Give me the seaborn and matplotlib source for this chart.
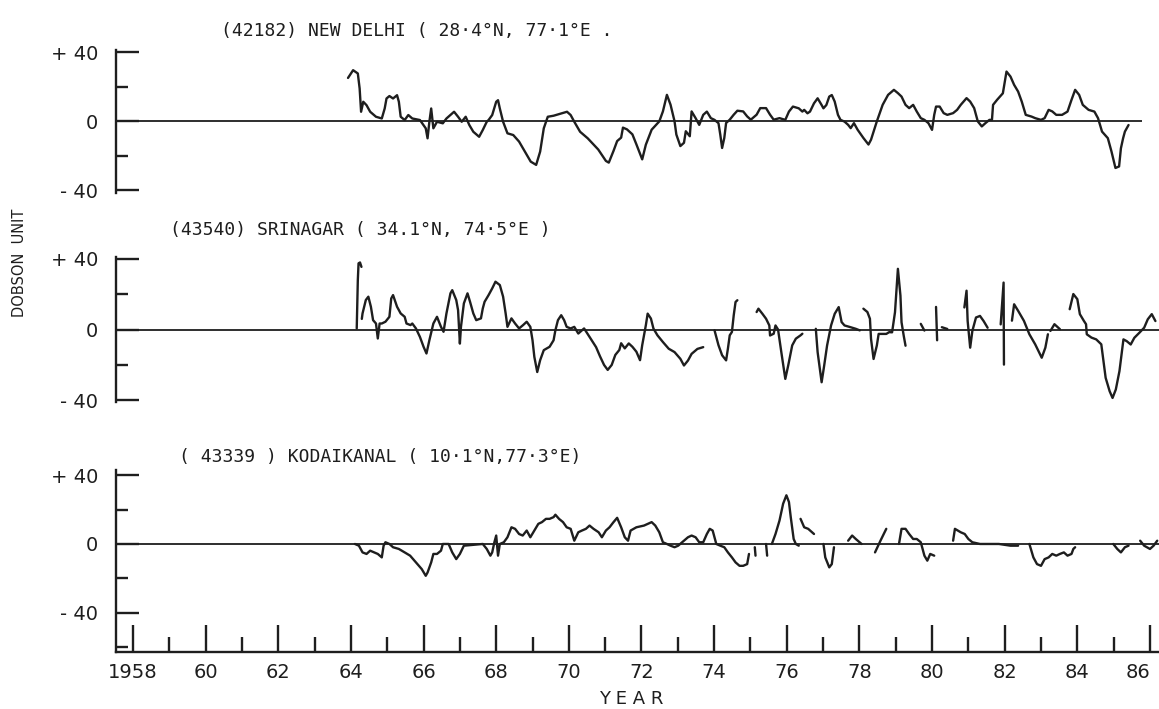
import numpy as np
import pandas as pd
import matplotlib
matplotlib.use("Agg")
import matplotlib.pyplot as plt
import seaborn as sns

sns.set_theme(style="white")
plt.rcParams["font.family"] = ["DejaVu Sans"]

INK = "#1e1e1e"
NAN = np.nan

# Monthly-smoothed total ozone deviations (Dobson units); NaN marks a break in the record.
DELHI_YEAR = [
    1963.92, 1964.06, 1964.19, 1964.24, 1964.28, 1964.34, 1964.43, 1964.53, 1964.69, 1964.85,
    1964.93, 1964.98, 1965.06, 1965.16, 1965.27, 1965.32, 1965.37, 1965.48, 1965.58, 1965.69,
    1965.90, 1966.06, 1966.11, 1966.16, 1966.21, 1966.27, 1966.37, 1966.53, 1966.63, 1966.74,
    1966.84, 1966.95, 1967.05, 1967.16, 1967.26, 1967.37, 1967.53, 1967.63, 1967.74, 1967.79,
    1967.89, 1968.00, 1968.05, 1968.10, 1968.19, 1968.31, 1968.47, 1968.63, 1968.79, 1968.95,
    1969.10, 1969.21, 1969.31, 1969.42, 1969.58, 1969.79, 1969.95, 1970.05, 1970.15, 1970.31,
    1970.52, 1970.81, 1971.02, 1971.10, 1971.23, 1971.33, 1971.44, 1971.49, 1971.60, 1971.75,
    1971.86, 1972.02, 1972.12, 1972.28, 1972.49, 1972.59, 1972.70, 1972.80, 1972.91, 1972.96,
    1973.07, 1973.17, 1973.22, 1973.33, 1973.38, 1973.49, 1973.59, 1973.70, 1973.80, 1973.91,
    1974.01, 1974.12, 1974.17, 1974.22, 1974.28, 1974.33, 1974.43, 1974.54, 1974.64, 1974.80,
    1974.91, 1975.01, 1975.17, 1975.27, 1975.43, 1975.54, 1975.64, 1975.80, 1975.96, 1976.06,
    1976.17, 1976.33, 1976.43, 1976.48, 1976.57, 1976.64, 1976.75, 1976.85, 1976.96, 1977.01,
    1977.09, 1977.17, 1977.24, 1977.32, 1977.41, 1977.48, 1977.59, 1977.69, 1977.76, 1977.85,
    1977.95, 1978.11, 1978.25, 1978.32, 1978.48, 1978.64, 1978.79, 1978.95, 1979.06, 1979.16,
    1979.27, 1979.37, 1979.48, 1979.58, 1979.69, 1979.79, 1979.90, 1980.00, 1980.06, 1980.11,
    1980.21, 1980.32, 1980.42, 1980.58, 1980.69, 1980.79, 1980.95, 1981.05, 1981.16, 1981.26,
    1981.37, 1981.47, 1981.58, 1981.65, 1981.68, 1981.79, 1981.95, 1982.05, 1982.16, 1982.26,
    1982.37, 1982.47, 1982.58, 1982.74, 1982.84, 1983.00, 1983.10, 1983.21, 1983.31, 1983.42,
    1983.58, 1983.73, 1983.84, 1983.94, 1984.05, 1984.15, 1984.31, 1984.47, 1984.57, 1984.68,
    1984.84, 1984.94, 1985.05, 1985.15, 1985.20, 1985.26, 1985.31, 1985.41,
]
DELHI_VALUE = [
    25.0, 29.5, 27.6, 18.9, 5.4, 11.2, 9.2, 5.4, 2.5, 1.5,
    7.3, 13.1, 14.5, 13.1, 15.0, 11.2, 2.5, 0.6, 3.5, 1.5,
    0.6, -4.2, -10.0, -0.4, 7.3, -4.2, -0.4, -1.3, 1.5, 3.5,
    5.4, 2.5, -0.4, 2.5, -2.3, -6.2, -9.1, -5.2, -0.4, 0.6,
    3.5, 11.2, 12.1, 7.3, -0.4, -7.1, -8.1, -11.9, -17.7, -23.5,
    -25.4, -17.7, -4.2, 2.5, 3.1, 4.4, 5.4, 3.5, -0.4, -6.2,
    -10.0, -16.5, -23.1, -24.1, -17.3, -11.6, -9.6, -3.8, -4.8, -7.7,
    -13.5, -22.2, -13.7, -5.0, -0.2, 5.6, 15.2, 9.5, -0.1, -7.8,
    -14.5, -12.6, -5.9, -8.8, 5.6, 1.7, -2.2, 3.6, 5.5, 1.7,
    0.7, -1.2, -7.9, -15.6, -9.8, -1.1, 0.8, 3.7, 6.0, 5.6,
    2.7, 0.8, 3.7, 7.5, 7.5, 3.7, 0.8, 1.7, 0.7, 5.5,
    8.4, 7.4, 5.5, 6.5, 4.5, 5.5, 10.3, 13.2, 9.3, 7.4,
    9.3, 14.2, 15.1, 11.3, 3.6, 0.7, -0.3, -2.2, -4.1, -1.2,
    -5.0, -9.8, -13.6, -10.8, -0.2, 9.4, 15.2, 18.1, 16.2, 14.2,
    9.4, 7.5, 9.4, 5.5, 1.7, 0.7, -1.2, -5.1, 3.6, 8.4,
    8.4, 4.6, 3.6, 4.6, 6.5, 9.4, 13.3, 11.3, 7.5, -0.2,
    -3.1, -1.2, 0.7, 0.7, 9.4, 12.3, 16.1, 28.7, 25.8, 21.0,
    17.1, 11.3, 3.6, 2.6, 1.7, 0.7, 1.7, 6.5, 5.6, 3.6,
    3.6, 5.5, 12.3, 18.1, 15.2, 9.4, 6.5, 5.5, 1.7, -6.1,
    -9.9, -17.6, -27.2, -26.3, -15.8, -10.0, -6.1, -2.3,
]

SRINAGAR_YEAR = [
    1964.16, 1964.19, 1964.21, 1964.25, 1964.29, NAN,
    1964.30, 1964.32, 1964.41, 1964.48, 1964.55, 1964.61, 1964.69, 1964.74, 1964.79, 1964.85,
    1964.95, 1965.06, 1965.11, 1965.16, 1965.27, 1965.37, 1965.48, 1965.53, 1965.64, 1965.69,
    1965.79, 1965.90, 1966.00, 1966.08, 1966.16, 1966.27, 1966.37, 1966.48, 1966.55, 1966.63,
    1966.74, 1966.79, 1966.90, 1966.95, 1967.00, 1967.03, 1967.11, 1967.21, 1967.28, 1967.37,
    1967.45, 1967.58, 1967.63, 1967.68, 1967.79, 1967.89, 1967.98, 1968.10, 1968.19, 1968.26,
    1968.31, 1968.42, 1968.52, 1968.63, 1968.74, 1968.84, 1968.94, 1969.00, 1969.05, 1969.13,
    1969.21, 1969.31, 1969.47, 1969.58, 1969.63, 1969.70, 1969.79, 1969.87, 1969.94, 1970.05,
    1970.15, 1970.26, 1970.42, 1970.57, 1970.75, 1970.86, 1970.97, 1971.07, 1971.18, 1971.28,
    1971.39, 1971.44, 1971.54, 1971.65, 1971.75, 1971.86, 1971.96, 1972.02, 1972.12, 1972.17,
    1972.26, 1972.33, 1972.44, 1972.59, 1972.75, 1972.91, 1973.07, 1973.17, 1973.28, 1973.38,
    1973.54, 1973.70, NAN,
    1974.01, 1974.12, 1974.22, 1974.33, 1974.38, 1974.43, 1974.49, 1974.54, 1974.59, 1974.64, NAN,
    1975.17, 1975.22, 1975.33, 1975.43, 1975.52, 1975.54, 1975.64, 1975.69, 1975.76, 1975.85,
    1975.96, 1976.04, 1976.15, 1976.25, 1976.38, 1976.43, NAN,
    1976.80, 1976.85, 1976.96, 1977.03, 1977.11, 1977.22, 1977.32, 1977.43, 1977.51, 1977.59,
    1977.74, 1977.90, 1978.01, NAN,
    1978.11, 1978.22, 1978.29, 1978.32, 1978.39, 1978.48, 1978.53, 1978.64, 1978.74, 1978.82,
    1978.90, 1978.98, 1979.06, 1979.13, 1979.16, 1979.22, 1979.27, NAN,
    1979.69, 1979.79, NAN,
    1980.11, 1980.14, NAN,
    1980.27, 1980.42, NAN,
    1980.89, 1980.95, 1980.98, 1981.05, 1981.11, 1981.21, 1981.32, 1981.42, 1981.53, NAN,
    1981.89, 1981.97, 1981.98, NAN,
    1982.20, 1982.26, 1982.37, 1982.53, 1982.68, 1982.84, 1983.02, 1983.12, 1983.19, NAN,
    1983.26, 1983.37, 1983.52, NAN,
    1983.79, 1983.89, 1984.00, 1984.07, 1984.18, 1984.24, 1984.26, 1984.39, 1984.52, 1984.66,
    1984.78, 1984.89, 1984.97, 1985.06, 1985.16, 1985.27, 1985.36, 1985.47, 1985.57, 1985.71,
    1985.84, 1985.94, 1986.05, 1986.15,
]
SRINAGAR_VALUE = [
    0.6, 28.0, 37.5, 38.0, 35.5, NAN,
    6.0, 9.1, 16.7, 18.6, 12.9, 5.3, 3.4, -5.1, 3.4, 3.4,
    4.4, 7.2, 17.6, 19.5, 12.9, 9.1, 7.2, 3.4, 2.5, 3.4,
    0.6, -4.2, -9.8, -13.6, -6.1, 3.4, 7.2, 1.5, -1.3, 9.1,
    20.5, 22.3, 16.7, 11.0, -8.0, 1.5, 14.8, 20.5, 15.7, 9.1,
    5.3, 6.3, 11.9, 15.7, 19.5, 23.3, 27.1, 25.2, 18.6, 9.1,
    1.5, 6.3, 3.4, 0.6, 2.5, 4.4, 1.5, -6.1, -15.5, -24.1,
    -17.4, -11.7, -9.8, -6.1, -0.4, 5.3, 8.1, 5.3, 1.5, 0.6,
    1.5, -2.3, 0.6, -4.2, -10.0, -15.3, -20.1, -22.9, -20.1, -14.4,
    -11.6, -7.8, -10.7, -7.9, -9.8, -12.6, -17.4, -8.9, 2.4, 9.0,
    6.2, 0.5, -3.3, -7.1, -10.9, -12.8, -16.6, -20.4, -17.6, -13.8,
    -11.0, -10.0, NAN,
    -0.4, -8.9, -14.6, -17.5, -10.8, -3.3, -1.4, 8.1, 15.6, 16.6, NAN,
    9.9, 11.8, 8.9, 6.1, 2.3, -3.4, -2.4, 2.3, 0.0, -12.8,
    -28.0, -20.4, -9.0, -5.2, -3.3, -2.4, NAN,
    0.4, -12.9, -29.9, -20.5, -9.1, 2.3, 8.9, 12.7, 4.2, 2.3,
    1.4, 0.4, -0.5, NAN,
    11.8, 9.9, 6.1, -5.3, -16.7, -9.1, -2.5, -2.5, -2.5, -1.5,
    -1.6, 9.8, 34.4, 19.2, 4.1, -3.5, -9.2, NAN,
    3.2, -0.6, NAN,
    12.8, -6.1, NAN,
    1.3, 0.3, NAN,
    12.5, 22.0, 4.9, -10.3, -0.8, 6.8, 7.7, 4.8, 1.0, NAN,
    2.9, 26.6, -19.9, NAN,
    5.0, 14.3, 10.6, 4.9, -2.7, -8.4, -16.0, -10.3, -2.7, NAN,
    -0.8, 3.0, 0.2, NAN,
    11.5, 20.1, 17.2, 8.7, 4.9, 3.0, -2.7, -4.6, -5.6, -8.4,
    -27.4, -35.0, -38.8, -34.0, -23.6, -5.6, -6.6, -8.5, -4.7, -1.8,
    1.0, 5.8, 8.7, 4.8,
]

KODAIKANAL_YEAR = [
    1964.11, 1964.22, 1964.32, 1964.43, 1964.53, 1964.64, 1964.74, 1964.85, 1964.90, 1964.95,
    1965.06, 1965.16, 1965.32, 1965.48, 1965.63, 1965.79, 1965.95, 1966.06, 1966.11, 1966.21,
    1966.27, 1966.37, 1966.48, 1966.53, 1966.69, 1966.79, 1966.90, 1967.00, 1967.11, 1967.63,
    1967.74, 1967.84, 1967.89, 1967.95, 1968.00, 1968.05, 1968.10, 1968.21, 1968.31, 1968.42,
    1968.52, 1968.63, 1968.73, 1968.84, 1968.94, 1969.05, 1969.16, 1969.26, 1969.37, 1969.47,
    1969.58, 1969.63, 1969.73, 1969.84, 1969.94, 1970.05, 1970.15, 1970.26, 1970.36, 1970.47,
    1970.57, 1970.68, 1970.82, 1970.91, 1971.02, 1971.12, 1971.23, 1971.33, 1971.44, 1971.54,
    1971.63, 1971.70, 1971.86, 1972.07, 1972.28, 1972.38, 1972.49, 1972.59, 1972.70, 1972.80,
    1972.91, 1973.01, 1973.12, 1973.28, 1973.38, 1973.49, 1973.59, 1973.70, 1973.80, 1973.88,
    1973.96, 1974.01, 1974.06, 1974.17, 1974.28, 1974.38, 1974.49, 1974.59, 1974.70, 1974.80,
    1974.91, 1974.96, NAN,
    1975.12, 1975.14, NAN,
    1975.43, 1975.46, NAN,
    1975.59, 1975.69, 1975.80, 1975.90, 1975.99, 1976.06, 1976.11, 1976.19, 1976.25, 1976.33, NAN,
    1976.38, 1976.48, 1976.59, 1976.75, NAN,
    1977.01, 1977.06, 1977.17, 1977.24, 1977.30, NAN,
    1977.69, 1977.80, 1977.90, 1978.06, NAN,
    1978.43, 1978.58, 1978.74, NAN,
    1979.09, 1979.16, 1979.27, 1979.37, 1979.48, 1979.58, 1979.69, 1979.79, 1979.87, 1979.95,
    1980.06, NAN,
    1980.58, 1980.63, 1980.79, 1980.90, 1981.00, 1981.11, 1981.32, 1981.84, 1982.16, 1982.37, NAN,
    1982.68, 1982.79, 1982.89, 1983.00, 1983.10, 1983.21, 1983.31, 1983.42, 1983.52, 1983.63,
    1983.73, 1983.84, 1983.89, 1983.94, NAN,
    1984.99, 1985.10, 1985.20, 1985.31, 1985.41, NAN,
    1985.73, 1985.84, 1986.00, 1986.10, 1986.20,
]
KODAIKANAL_VALUE = [
    0.0, -1.0, -4.9, -5.8, -3.9, -4.9, -5.8, -7.8, -1.0, 1.0,
    0.0, -1.9, -2.9, -4.9, -6.8, -10.7, -14.6, -18.5, -16.6, -10.7,
    -5.8, -5.8, -3.9, 0.0, 0.0, -4.9, -8.8, -5.8, -1.0, 0.0,
    -2.9, -6.8, -4.9, 1.0, 4.9, -6.8, 0.0, 1.0, 3.9, 9.7,
    8.8, 5.8, 4.9, 7.8, 3.9, 7.8, 11.7, 12.7, 14.6, 14.6,
    15.6, 17.0, 14.6, 12.7, 9.7, 8.8, 1.9, 6.8, 7.8, 8.8,
    10.7, 8.8, 6.8, 3.9, 7.8, 9.7, 12.7, 15.2, 9.7, 3.9,
    1.9, 7.8, 9.7, 10.7, 12.7, 10.7, 6.8, 1.0, 0.0, -1.0,
    -1.9, -1.0, 1.0, 3.9, 4.9, 3.9, 1.0, 1.0, 5.8, 8.8,
    7.8, 3.9, 0.0, -1.0, -1.9, -4.9, -7.8, -10.7, -12.7, -12.7,
    -11.7, -5.8, NAN,
    -1.9, -6.8, NAN,
    0.0, -6.8, NAN,
    0.0, 5.8, 13.6, 23.4, 28.3, 24.4, 15.6, 2.9, 0.0, -1.0, NAN,
    14.6, 9.7, 8.8, 5.8, NAN,
    0.0, -7.8, -13.6, -11.7, -1.9, NAN,
    1.9, 4.9, 2.9, 0.0, NAN,
    -4.9, 1.9, 8.8, NAN,
    0.0, 8.8, 8.8, 5.8, 2.9, 2.9, 1.0, -6.8, -9.7, -5.8,
    -6.8, NAN,
    1.9, 8.8, 6.8, 5.8, 2.9, 1.0, 0.0, 0.0, -1.0, -1.0, NAN,
    0.0, -7.8, -11.7, -12.7, -8.8, -7.8, -5.8, -6.8, -5.8, -4.9,
    -6.8, -5.8, -2.9, -1.9, NAN,
    0.0, -2.9, -4.9, -1.9, -1.0, NAN,
    1.9, -1.0, -2.9, -1.0, 1.9,
]

STATION_TITLES = [
    "(42182) NEW DELHI ( 28·4°N, 77·1°E .",
    "(43540) SRINAGAR ( 34.1°N, 74·5°E )",
    "( 43339 ) KODAIKANAL ( 10·1°N,77·3°E)",
]
Y_TICKS = [-40, 0, 40]
Y_TICK_LABELS = ["- 40", "0", "+ 40"]
YEAR_TICKS = list(range(1958, 1987, 2))
YEAR_TICK_LABELS = ["1958", "60", "62", "64", "66", "68", "70", "72",
                    "74", "76", "78", "80", "82", "84", "86"]
YEAR_MINOR = list(range(1959, 1986, 2))


def station_frame(years, values):
    yrs = np.asarray(years, dtype=float)
    vals = np.asarray(values, dtype=float)
    seg = np.cumsum(np.isnan(vals))
    df = pd.DataFrame({"year": yrs, "value": vals, "seg": seg})
    return df.dropna().reset_index(drop=True)


W, H = 1159, 709
fig = plt.figure(figsize=(W / 100, H / 100), dpi=100)
fig.patch.set_facecolor("white")

PX_PER_YEAR = 36.32
X0_PX, X0_YEAR = 133, 1958


def px_axes(left, top, right, bottom):
    ax = fig.add_axes([left / W, 1 - bottom / H, (right - left) / W, (bottom - top) / H])
    ax.set_xlim(X0_YEAR + (left - X0_PX) / PX_PER_YEAR, X0_YEAR + (right - X0_PX) / PX_PER_YEAR)
    return ax


ax1 = px_axes(116, 50, 1142, 193)
ax2 = px_axes(116, 257, 1159, 402)
ax3 = px_axes(116, 470, 1159, 652)
axes = [ax1, ax2, ax3]
ylims = [(-41.7, 41.2), (-41.1, 41.1), (-62.8, 43.0)]
series = [
    station_frame(DELHI_YEAR, DELHI_VALUE),
    station_frame(SRINAGAR_YEAR, SRINAGAR_VALUE),
    station_frame(KODAIKANAL_YEAR, KODAIKANAL_VALUE),
]

LW = 1.7
for ax, df, ylim in zip(axes, series, ylims):
    xlim = ax.get_xlim()
    ax.set_facecolor("white")
    ax.axhline(0, color=INK, lw=1.3, zorder=1)
    sns.lineplot(data=df, x="year", y="value", units="seg", estimator=None,
                 sort=False, color=INK, lw=LW, ax=ax, legend=False, zorder=2)
    ax.set_xlim(*xlim)
    ax.set_ylim(*ylim)
    ax.set_xlabel("")
    ax.set_ylabel("")
    for side in ("top", "right", "bottom"):
        ax.spines[side].set_visible(False)
    ax.spines["left"].set_color(INK)
    ax.spines["left"].set_linewidth(LW)
    ax.set_yticks(Y_TICKS, Y_TICK_LABELS)
    ax.set_yticks([-20, 20] if ax is not ax3 else [-60, -20, 20], minor=True)
    ax.tick_params(axis="y", which="major", left=True, direction="in", length=16.5,
                   width=LW, color=INK, pad=13, labelsize=14, labelcolor=INK)
    ax.tick_params(axis="y", which="minor", left=True, direction="in", length=8.5,
                   width=LW, color=INK)
    ax.set_xticks([])

ax3.spines["bottom"].set_visible(True)
ax3.spines["bottom"].set_color(INK)
ax3.spines["bottom"].set_linewidth(LW)
ax3.set_xticks(YEAR_TICKS, YEAR_TICK_LABELS)
ax3.set_xticks(YEAR_MINOR, minor=True)
ax3.tick_params(axis="x", which="major", bottom=True, direction="in", length=19.5,
                width=LW, color=INK, pad=8, labelsize=14, labelcolor=INK)
ax3.tick_params(axis="x", which="minor", bottom=True, direction="in", length=10.5,
                width=LW, color=INK)
# the last year label sits flush against the right edge
ax3.get_xticklabels()[-1].set_horizontalalignment("right")

title_pos = [(221, 31), (170, 230), (179, 457)]
for (x, y), text in zip(title_pos, STATION_TITLES):
    fig.text(x / W, 1 - y / H, text, ha="left", va="center", fontsize=13,
             family=["DejaVu Sans Mono"], color=INK)

fig.text(631 / W, 1 - 699 / H, "Y E A R", ha="center", va="center", fontsize=13, color=INK)
fig.text(20 / W, 1 - 263 / H, "DOBSON  UNIT", ha="center", va="center", rotation=90,
         fontsize=10.5, color=INK)

fig.savefig("out.png", dpi=100, facecolor="white")
